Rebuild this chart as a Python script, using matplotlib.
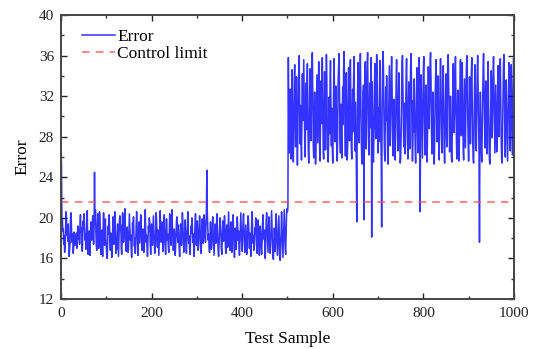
import numpy as np
import matplotlib
matplotlib.use("Agg")
import matplotlib.pyplot as plt
from matplotlib.ticker import MultipleLocator

plt.rcParams['font.family'] = ['Liberation Serif', 'DejaVu Serif']

# error values, samples 0-499 (normal operation)
error_normal = [
    26.3, 25.4, 19.6, 19.9, 18.7, 18.9, 17.4, 18.2, 16.6, 17.1, 18.9, 20.6, 20.1, 18.3, 18.8, 17.7, 19.4, 18.0, 16.2, 16.9,
    17.5, 19.8, 20.5, 19.3, 17.6, 18.4, 17.9, 16.5, 17.2, 18.6, 18.1, 17.3, 18.0, 17.6, 18.5, 17.0, 17.8, 19.2, 18.3, 17.9,
    18.8, 17.4, 19.5, 20.3, 18.6, 19.0, 17.1, 16.7, 18.2, 19.7, 18.9, 20.4, 19.1, 17.8, 18.4, 16.9, 18.1, 19.9, 20.7, 17.5,
    16.4, 17.3, 18.7, 17.0, 16.3, 18.5, 19.6, 18.2, 17.8, 19.3, 20.2, 18.6, 17.4, 18.9, 24.5, 19.4, 20.8, 18.7, 17.2, 16.8,
    19.1, 20.4, 18.3, 17.0, 17.7, 20.6, 19.8, 17.6, 16.4, 16.9, 18.8, 17.5, 16.2, 19.0, 20.5, 18.1, 17.3, 18.6, 19.9, 18.0,
    17.1, 16.3, 16.0, 17.8, 19.2, 18.4, 20.3, 19.5, 17.6, 16.8, 18.5, 17.9, 16.1, 16.6, 18.7, 20.1, 18.2, 17.4, 19.6, 20.6,
    18.3, 16.5, 17.2, 16.9, 18.6, 19.4, 17.7, 16.2, 17.9, 19.7, 20.2, 18.8, 19.3, 17.1, 16.4, 18.0, 20.5, 19.0, 17.6, 18.4,
    19.8, 20.9, 18.5, 17.3, 16.7, 17.5, 19.1, 18.2, 16.6, 17.0, 18.9, 20.4, 19.2, 17.8, 18.3, 16.9, 16.1, 17.6, 19.5, 18.7,
    20.1, 18.4, 17.2, 18.0, 16.5, 17.4, 19.3, 20.6, 19.0, 17.7, 16.3, 18.1, 19.6, 18.6, 17.5, 18.8, 20.3, 19.4, 17.9, 16.8,
    17.3, 18.9, 18.2, 16.6, 17.1, 19.7, 20.8, 18.5, 17.6, 18.3, 17.0, 16.2, 17.8, 19.2, 18.7, 20.0, 19.5, 17.4, 16.4, 18.0,
    19.4, 18.1, 17.3, 18.6, 20.2, 19.0, 17.7, 16.5, 16.9, 18.4, 20.5, 19.8, 18.2, 17.1, 18.8, 17.5, 16.3, 17.9, 19.3, 20.7,
    18.9, 17.6, 18.3, 19.6, 18.0, 16.7, 17.4, 19.1, 20.3, 18.5, 17.2, 16.4, 18.1, 19.9, 18.6, 17.8, 18.4, 17.0, 16.6, 18.7,
    20.4, 19.2, 18.0, 17.3, 19.5, 20.8, 19.0, 17.7, 16.8, 17.5, 18.9, 18.2, 16.3, 17.1, 18.5, 19.7, 20.1, 18.4, 17.6, 19.3,
    18.1, 16.9, 16.2, 17.8, 19.4, 18.6, 17.3, 18.8, 20.5, 19.6, 17.9, 16.6, 17.4, 18.3, 19.8, 18.7, 17.2, 16.5, 18.0, 19.1,
    20.6, 18.8, 17.5, 18.2, 16.9, 16.4, 17.7, 19.2, 18.5, 20.0, 19.3, 17.6, 18.4, 17.0, 16.2, 17.9, 19.5, 20.4, 18.6, 17.3,
    18.0, 19.7, 18.3, 16.8, 17.4, 18.9, 20.2, 19.1, 17.7, 16.5, 17.2, 18.6, 19.9, 18.1, 17.5, 18.7, 20.3, 19.4, 18.2, 17.6,
    19.0, 20.5, 24.7, 20.6, 19.2, 17.8, 18.4, 17.1, 16.6, 18.3, 19.6, 18.0, 16.9, 17.3, 19.1, 20.1, 18.5, 17.4, 16.3, 17.9,
    19.4, 18.7, 17.5, 18.1, 20.4, 19.5, 17.9, 16.7, 16.2, 17.6, 18.8, 20.0, 19.2, 18.3, 17.0, 16.4, 18.2, 19.7, 18.6, 17.7,
    18.5, 20.2, 19.1, 17.2, 16.5, 17.8, 19.3, 18.4, 17.1, 18.9, 20.6, 19.0, 17.6, 16.8, 18.0, 19.6, 18.3, 16.6, 17.4, 19.8,
    20.3, 18.6, 17.3, 16.1, 17.7, 19.0, 18.2, 16.9, 18.5, 20.1, 19.4, 17.8, 18.7, 17.2, 16.3, 17.5, 19.2, 20.5, 18.9, 17.6,
    16.7, 18.1, 19.6, 20.4, 18.8, 17.4, 16.6, 17.9, 19.3, 18.0, 16.4, 17.1, 18.6, 20.2, 19.7, 18.3, 17.0, 18.5, 17.6, 16.2,
    17.8, 19.5, 20.6, 19.1, 17.5, 18.2, 16.8, 17.3, 19.0, 18.4, 20.0, 18.7, 17.2, 16.5, 18.1, 19.8, 18.9, 17.4, 16.3, 17.7,
    19.2, 18.5, 17.0, 16.4, 17.6, 19.4, 20.3, 18.6, 17.9, 18.8, 17.1, 16.0, 17.5, 19.7, 20.5, 19.3, 17.8, 16.6, 18.3, 20.1,
    18.4, 17.2, 16.5, 17.9, 19.6, 20.7, 18.9, 17.3, 16.2, 15.9, 17.4, 19.0, 18.1, 16.7, 18.6, 20.4, 19.5, 17.6, 16.3, 17.0,
    18.8, 20.2, 18.3, 16.6, 15.8, 16.9, 18.5, 20.6, 19.2, 17.5, 16.1, 17.8, 19.9, 20.8, 18.7, 17.1, 16.4, 18.2, 20.3, 20.9,
]

# error values, samples 500-999 (after the fault)
error_fault = [
    20.6, 21.0, 35.8, 29.2, 26.4, 28.9, 32.7, 27.5, 25.8, 30.1, 34.6, 31.2, 26.9, 25.5, 29.7, 33.4, 35.1, 29.8, 27.0, 31.6,
    33.9, 27.8, 25.2, 28.4, 32.5, 34.9, 36.0, 30.6, 27.3, 31.1, 28.0, 25.7, 30.4, 34.2, 29.6, 32.8, 35.6, 31.5, 27.9, 26.0,
    29.5, 33.3, 28.7, 32.9, 35.2, 30.0, 26.6, 25.4, 28.1, 32.6, 34.7, 29.4, 27.6, 31.8, 35.9, 36.3, 31.4, 27.2, 25.9, 29.0,
    32.4, 27.7, 25.3, 26.8, 30.3, 34.1, 31.0, 27.4, 31.7, 35.4, 32.1, 26.9, 25.6, 29.9, 33.5, 29.3, 34.0, 35.8, 30.7, 26.5,
    25.8, 30.2, 34.4, 29.7, 26.7, 32.0, 36.1, 33.6, 28.6, 26.2, 25.5, 27.9, 31.9, 28.3, 32.8, 35.5, 31.3, 27.1, 30.8, 26.9,
    25.4, 28.6, 33.1, 35.7, 31.6, 27.5, 28.9, 33.0, 30.1, 26.3, 25.6, 29.1, 33.7, 35.0, 36.2, 32.3, 27.8, 26.4, 31.2, 28.0,
    25.9, 30.5, 32.9, 29.2, 34.6, 36.4, 33.8, 28.4, 26.1, 30.7, 34.3, 28.8, 25.7, 27.3, 31.5, 34.8, 30.6, 27.6, 33.9, 35.6,
    31.1, 27.0, 25.8, 29.4, 32.7, 28.5, 33.6, 35.9, 30.2, 26.6, 31.4, 27.9, 25.6, 19.6, 28.7, 33.2, 35.3, 30.9, 27.4, 30.0,
    34.0, 36.2, 32.2, 27.7, 25.9, 25.3, 28.2, 32.4, 33.1, 19.8, 29.8, 34.5, 35.4, 30.4, 26.8, 31.0, 35.1, 36.3, 31.9, 28.1,
    26.2, 29.6, 33.3, 28.9, 33.7, 35.8, 18.1, 33.4, 29.5, 26.0, 25.5, 28.6, 32.8, 35.2, 30.3, 27.8, 33.5, 36.1, 34.2, 29.1,
    26.4, 30.8, 27.5, 32.1, 35.5, 32.6, 28.3, 25.8, 19.1, 30.1, 34.4, 36.4, 34.7, 30.0, 26.9, 25.6, 29.3, 32.9, 29.6, 34.0,
    30.5, 26.7, 25.3, 28.8, 32.5, 35.0, 31.4, 27.1, 29.9, 33.8, 35.9, 33.0, 28.6, 26.1, 28.3, 31.7, 29.0, 26.5, 25.7, 29.5,
    33.6, 35.6, 31.8, 28.4, 26.6, 30.9, 34.3, 30.2, 27.3, 25.4, 25.9, 28.0, 32.2, 35.3, 36.0, 32.4, 28.9, 27.0, 31.3, 29.2,
    26.3, 30.6, 33.9, 35.7, 31.5, 27.6, 25.8, 29.7, 33.4, 29.8, 26.8, 31.9, 35.1, 36.2, 32.7, 28.2, 25.6, 27.4, 31.6, 28.5,
    33.7, 30.4, 26.9, 25.4, 29.3, 32.3, 34.8, 30.1, 26.4, 28.7, 33.2, 35.8, 30.8, 20.6, 29.6, 34.1, 31.2, 27.7, 25.9, 30.3,
    34.5, 35.9, 32.0, 28.1, 26.2, 30.5, 33.1, 28.4, 25.5, 27.2, 31.6, 34.9, 32.6, 28.8, 32.1, 35.4, 36.3, 33.5, 28.6, 26.3,
    28.9, 32.4, 29.7, 26.0, 25.3, 27.6, 31.8, 33.9, 35.6, 31.1, 27.5, 30.2, 34.0, 30.7, 27.2, 25.7, 29.4, 33.6, 35.7, 32.8,
    28.3, 26.4, 29.8, 32.5, 35.0, 30.9, 26.7, 25.4, 28.2, 31.9, 34.2, 29.1, 27.0, 32.3, 35.5, 36.1, 33.2, 29.5, 26.5, 28.0,
    32.0, 29.3, 26.1, 25.5, 28.5, 32.2, 35.2, 32.9, 28.4, 30.6, 34.4, 35.9, 31.7, 27.9, 25.8, 28.7, 32.6, 29.9, 26.6, 25.6,
    29.0, 33.3, 35.6, 31.6, 28.1, 32.4, 35.3, 30.8, 26.8, 25.7, 29.6, 33.7, 30.0, 26.9, 31.1, 34.6, 36.0, 34.1, 30.2, 27.4,
    25.6, 29.2, 33.9, 31.0, 27.3, 30.6, 34.2, 35.8, 31.5, 27.7, 25.9, 25.4, 28.3, 32.5, 35.1, 32.1, 27.8, 26.6, 30.4, 34.3,
    36.0, 32.7, 28.6, 26.2, 17.6, 28.8, 32.4, 29.5, 26.7, 25.5, 28.1, 31.8, 34.7, 36.2, 32.9, 28.9, 26.9, 30.8, 33.5, 29.4,
    26.3, 28.6, 32.8, 35.4, 31.7, 27.6, 25.7, 25.3, 28.2, 31.4, 34.5, 32.3, 27.9, 30.1, 34.0, 35.9, 32.5, 28.7, 26.4, 29.7,
    33.1, 29.9, 26.5, 27.8, 31.5, 35.0, 32.6, 28.0, 30.9, 34.2, 35.7, 31.9, 27.5, 25.8, 25.4, 28.4, 32.1, 35.2, 36.1, 32.0,
    28.5, 26.0, 29.2, 33.6, 30.7, 27.2, 25.6, 28.9, 32.7, 35.3, 33.0, 28.7, 26.6, 31.3, 35.1, 32.2, 28.3, 26.2, 30.9, 35.7,
]

control_limit = 21.6

error = np.array(error_normal + error_fault)
samples = np.arange(len(error))

fig = plt.figure(figsize=(5.37, 3.49), dpi=100)
ax = fig.add_axes([0.1136, 0.1433, 0.8434, 0.8137])

ax.plot(samples, error, color='blue', lw=1.1, alpha=0.8, label='Error')
ax.axhline(control_limit, color='#ff4d4d', lw=1.1, ls=(0, (5, 4)), alpha=0.85, label='Control limit')

ax.set_xlim(0, 1000)
ax.set_ylim(12, 40)
ax.xaxis.set_major_locator(MultipleLocator(200))
ax.xaxis.set_minor_locator(MultipleLocator(100))
ax.yaxis.set_major_locator(MultipleLocator(4))
ax.yaxis.set_minor_locator(MultipleLocator(2))

ax.tick_params(which='both', direction='in', top=True, right=True, color='#333333', width=1.0)
ax.tick_params(which='major', length=4.5, labelsize=11, colors='#222222')
ax.tick_params(axis='x', which='major', pad=6)
ax.tick_params(axis='y', which='major', pad=5)
ax.tick_params(which='minor', length=2.5)
for sp in ax.spines.values():
    sp.set_color('#444444')
    sp.set_linewidth(1.4)

ax.set_xlabel('Test Sample', fontsize=12.5, labelpad=8)
ax.set_ylabel('Error', fontsize=12.5, labelpad=6)

ax.legend(loc='upper left', frameon=False, fontsize=12.5, handlelength=1.9,
          handletextpad=0.12, labelspacing=0.08, borderaxespad=0.3,
          bbox_to_anchor=(0.02, 0.995))

fig.savefig('out.png', dpi=100)
